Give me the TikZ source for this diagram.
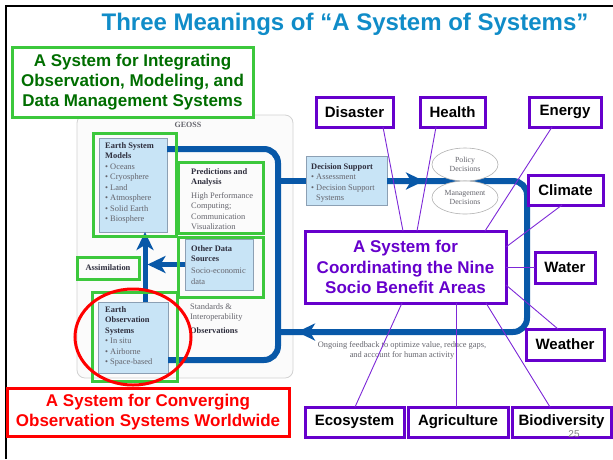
\documentclass[tikz,border=0pt]{standalone}
\usepackage{fontspec}
\setmainfont{Liberation Sans}
\newfontfamily\myserif{Liberation Serif}
\usetikzlibrary{arrows.meta,calc,shapes.geometric}
\definecolor{ttl}{RGB}{16,140,200}
\definecolor{grn}{RGB}{60,200,60}
\definecolor{dgrn}{RGB}{0,110,0}
\definecolor{pur}{RGB}{102,0,204}
\definecolor{plin}{RGB}{125,40,215}
\definecolor{flowc}{RGB}{8,88,168}
\definecolor{lblue}{RGB}{200,228,246}
\definecolor{bbord}{RGB}{140,160,180}
\definecolor{txtd}{RGB}{45,45,60}
\definecolor{txtg}{RGB}{100,100,108}
\begin{document}
\begin{tikzpicture}[x=1pt,y=-1pt,
  sba/.style={draw=pur, line width=3pt, fill=white, font=\fontsize{15}{18}\selectfont\bfseries, text=black, align=center, inner sep=0pt, outer sep=0pt},
  gframe/.style={draw=grn, line width=3pt, inner sep=0pt, outer sep=0pt},
  bluebox/.style={fill=lblue, draw=bbord, line width=0.7pt, inner sep=0pt, outer sep=0pt},
  geotxt/.style={font=\myserif\fontsize{8.4}{10.5}\selectfont, text=txtg, align=left, anchor=north west, inner sep=0pt},
  flowline/.style={draw=flowc, line width=6pt, rounded corners=14pt},
  flowarrow/.style={draw=flowc, line width=6pt, -{Stealth[length=18pt,width=17pt,inset=5pt]}},
  plink/.style={draw=plin, line width=0.9pt},
  decell/.style={ellipse, draw=gray!60, line width=0.6pt, fill=white, minimum width=66pt, minimum height=33pt, inner sep=0pt, outer sep=0pt, font=\myserif\fontsize{7.8}{9.5}\selectfont, text=txtg, align=center}
]
\useasboundingbox (0,0) rectangle (613,459);
\draw[black, line width=2pt] (6,459) -- (6,6) -- (613,6);
\node[font=\fontsize{24}{28}\selectfont\bfseries, text=ttl, anchor=base, inner sep=0pt] (title) at (345,30.5) {Three Meanings of \textquotedblleft A System of Systems\textquotedblright};

\node[draw=gray!35, fill=gray!3, rounded corners=8pt, minimum width=216pt, minimum height=263pt, line width=0.8pt, inner sep=0pt, outer sep=0pt] (panel) at (185,246.5) {};
\node[font=\myserif\bfseries\fontsize{8}{10}\selectfont, text=txtg, inner sep=0pt] (geoss) at (188,125) {GEOSS};

\node[bluebox, minimum width=68pt, minimum height=94pt] (esm) at (133,185) {};
\node[bluebox, minimum width=68pt, minimum height=51pt] (ods) at (219,264.5) {};
\node[bluebox, minimum width=70pt, minimum height=71pt] (eo) at (133,337.5) {};
\node[bluebox, minimum width=81pt, minimum height=49pt] (ds) at (346.5,181) {};

\node[geotxt] (esmt) at (105,142) {\textcolor{txtd}{\bfseries Earth System}\\\textcolor{txtd}{\bfseries Models}\\\textbullet{} Oceans\\\textbullet{} Cryosphere\\\textbullet{} Land\\\textbullet{} Atmosphere\\\textbullet{} Solid Earth\\\textbullet{} Biosphere};
\node[geotxt] (predt) at (191,168) {\textcolor{txtd}{\bfseries Predictions and}\\\textcolor{txtd}{\bfseries Analysis}\\[3pt]High Performance\\Computing;\\Communication\\Visualization};
\node[geotxt] (odst) at (191,245) {\textcolor{txtd}{\bfseries Other Data}\\\textcolor{txtd}{\bfseries Sources}\\[1.5pt]Socio-economic\\data};
\node[geotxt] (eot) at (105,306) {\textcolor{txtd}{\bfseries Earth}\\\textcolor{txtd}{\bfseries Observation}\\\textcolor{txtd}{\bfseries Systems}\\\textbullet{} In situ\\\textbullet{} Airborne\\\textbullet{} Space-based};
\node[geotxt] (dst) at (311,163) {\textcolor{txtd}{\bfseries Decision Support}\\\textbullet{} Assessment\\\textbullet{} Decision Support\\\hspace*{5pt}Systems};
\node[geotxt] (stdt) at (190,303) {Standards \&\\Interoperability\\[3pt]\textcolor{txtd}{\bfseries Observations}};
\node[font=\myserif\fontsize{8.4}{10}\selectfont, text=txtg, align=center, inner sep=0pt] (fbt) at (402,350) {Ongoing feedback to optimize value, reduce gaps,\\and account for human activity};

\draw[flowline] ([yshift=-11pt]esm.north east) -- (278,149) -- (278,360) -- ([yshift=13pt]eo.south east);
\coordinate (vtop) at (278,181);
\draw[flowline] (vtop) -- (ds.west);
\draw[flowline] (ds.east) -- (527,181) -- (527,332) -- (278,332);
\node[decell] (pol) at (465,164.5) {Policy\\Decisions};
\node[decell] (mgm) at (465,197.5) {Management\\Decisions};
\coordinate (dstip) at (424,181);
\draw[flowarrow] (ds.east) -- (dstip);
\coordinate (fbA) at (330,332);
\coordinate (fbB) at (297,332);
\draw[flowarrow] (fbA) -- (fbB);
\draw[flowarrow, line width=5pt] ([xshift=12pt]eo.north) -- ([xshift=12pt]esm.south);
\coordinate (vj) at (147.5,264.5);
\draw[flowarrow, line width=5pt] (ods.west) -- (vj);

\node[gframe, minimum width=83pt, minimum height=103pt] (gesm) at (134.5,184.5) {};
\node[gframe, minimum width=85pt, minimum height=71pt] (gpred) at (220.5,197.5) {};
\node[gframe, minimum width=85pt, minimum height=60pt] (gods) at (220.5,267) {};
\node[gframe, minimum width=62pt, minimum height=22pt, font=\myserif\bfseries\fontsize{8.4}{10}\selectfont, text=txtd] (gassim) at (108,268) {Assimilation};
\node[gframe, minimum width=85pt, minimum height=89pt] (geo) at (134.5,336.5) {};

\node[draw=grn, line width=3pt, fill=white, minimum width=241pt, minimum height=70pt, inner sep=0pt, outer sep=0pt, font=\fontsize{17}{20}\selectfont\bfseries, text=dgrn, align=center] (intg) at (132.5,82) {A System for Integrating\\Observation, Modeling, and\\Data Management Systems};

\draw[red, line width=3pt] (133,337) ellipse [x radius=58pt, y radius=48pt];
\node[draw=red, line width=3pt, fill=white, minimum width=282pt, minimum height=48pt, inner sep=0pt, outer sep=0pt, font=\fontsize{17}{20}\selectfont\bfseries, text=red, align=center] (conv) at (148,412) {A System for Converging\\Observation Systems Worldwide};

\node[sba, minimum width=201pt, minimum height=72pt, text=pur, font=\fontsize{17}{20.5}\selectfont\bfseries] (cen) at (405.5,267) {A System for\\Coordinating the Nine\\Socio Benefit Areas};
\node[sba, minimum width=77pt, minimum height=30pt] (dis) at (354.5,112) {Disaster};
\node[sba, minimum width=65pt, minimum height=30pt] (hea) at (452.5,112) {Health};
\node[sba, minimum width=72pt, minimum height=30pt] (ene) at (565,112) {Energy};
\node[sba, minimum width=75pt, minimum height=30pt] (cli) at (565.5,190) {Climate};
\node[sba, minimum width=60pt, minimum height=31pt] (wat) at (565,267.5) {Water};
\node[sba, minimum width=78pt, minimum height=31pt] (wea) at (565,344.5) {Weather};
\node[sba, minimum width=99pt, minimum height=30pt] (eco) at (354.5,422) {Ecosystem};
\node[sba, minimum width=100pt, minimum height=30pt] (agr) at (458,422) {Agriculture};
\node[sba, minimum width=99pt, minimum height=30pt] (bio) at (561.5,422) {Biodiversity};

\draw[plink] ([xshift=28.5pt]dis.south) -- ([xshift=-2.5pt]cen.north);
\draw[plink] ([xshift=-16.5pt]hea.south) -- ([xshift=11.5pt]cen.north);
\draw[plink] ([xshift=-13pt]ene.south) -- ([xshift=79.5pt]cen.north);
\draw[plink] ([xshift=-3.5pt]cli.south) -- ([yshift=20pt]cen.east);
\draw[plink] (cen.east) -- (cen.east -| wat.west);
\draw[plink] ([yshift=-18pt]cen.east) -- ([xshift=-7pt]wea.north);
\draw[plink] ([xshift=-3.5pt]cen.south) -- ([xshift=0.5pt]eco.north);
\draw[plink] ([xshift=50.5pt]cen.south) -- ([xshift=-2pt]agr.north);
\draw[plink] ([xshift=80.5pt]cen.south) -- ([xshift=-11.5pt]bio.north);

\node[font=\fontsize{10}{12}\selectfont, text=gray, inner sep=0pt] (pg) at (574,434) {25};
\end{tikzpicture}
\end{document}
